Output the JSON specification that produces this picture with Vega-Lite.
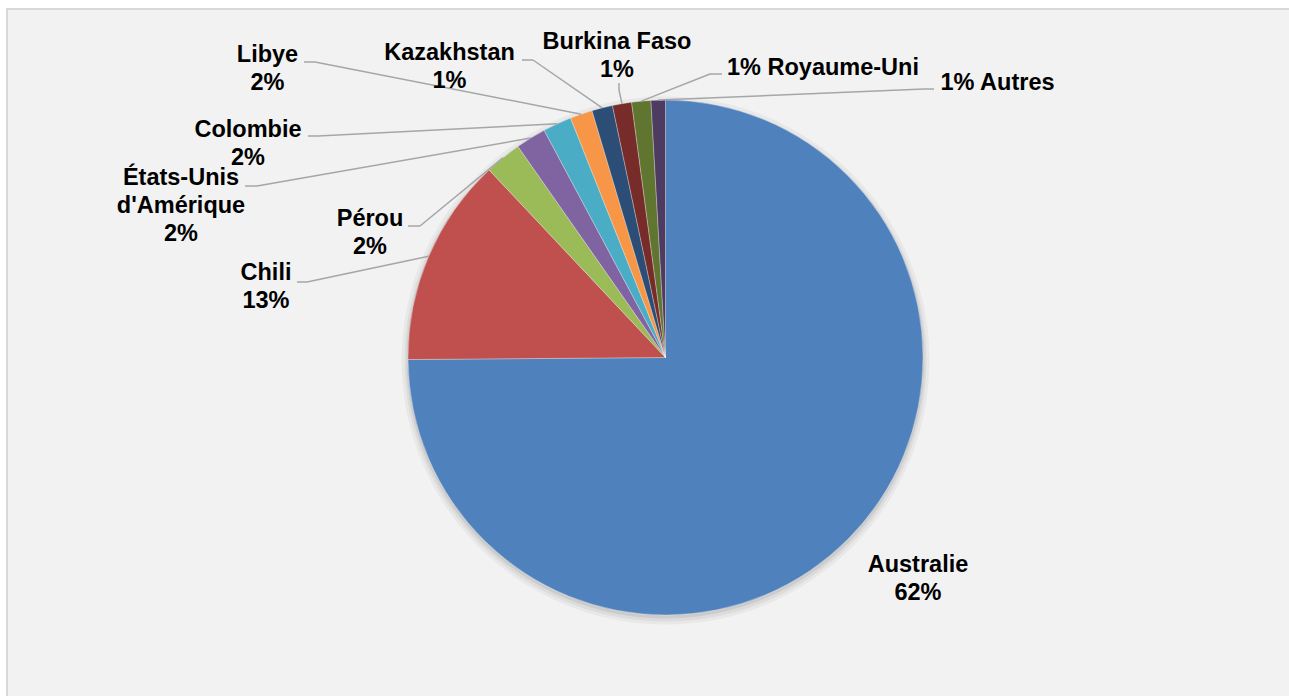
{
  "$schema": "https://vega.github.io/schema/vega-lite/v6.json",
  "width": 1284,
  "height": 689,
  "autosize": "none",
  "padding": {"left": 7, "top": 9, "right": -2, "bottom": -2},
  "background": "#FFFFFF",
  "config": {
    "view": {"fill": "#F2F2F2", "stroke": "#D9D9D9", "strokeWidth": 2},
    "text": {"font": "Liberation Sans"}
  },
  "data": {
    "values": [
      {"order": 0, "country": "Australie", "share": 74.8, "label": "Australie\n62%"},
      {"order": 1, "country": "Chili", "share": 13.1, "label": "Chili\n13%"},
      {"order": 2, "country": "Pérou", "share": 2.3, "label": "Pérou\n2%"},
      {"order": 3, "country": "États-Unis d'Amérique", "share": 1.9, "label": "États-Unis\nd'Amérique\n2%"},
      {"order": 4, "country": "Colombie", "share": 1.8, "label": "Colombie\n2%"},
      {"order": 5, "country": "Libye", "share": 1.4, "label": "Libye\n2%"},
      {"order": 6, "country": "Kazakhstan", "share": 1.3, "label": "Kazakhstan\n1%"},
      {"order": 7, "country": "Burkina Faso", "share": 1.2, "label": "Burkina Faso\n1%"},
      {"order": 8, "country": "Royaume-Uni", "share": 1.2, "label": "1% Royaume-Uni"},
      {"order": 9, "country": "Autres", "share": 0.9, "label": "1% Autres"}
    ]
  },
  "transform": [
    {"joinaggregate": [{"op": "sum", "field": "share", "as": "total"}]},
    {"window": [{"op": "sum", "field": "share", "as": "cum"}], "sort": [{"field": "order", "order": "ascending"}], "frame": [null, 0]},
    {"calculate": "2 * PI * (datum.cum - datum.share / 2) / datum.total", "as": "mid"},
    {"calculate": "257.5 * sin(datum.mid)", "as": "ax"},
    {"calculate": "-257.5 * cos(datum.mid)", "as": "ay"},
    {"calculate": "[252.5,-399.5,-295.5,-484.5,-417.5,-398,-216,-48.5,157.5,332][datum.order]", "as": "lx"},
    {"calculate": "[214.5,-77.5,-131.5,-172.5,-220.5,-295.5,-297.5,-308.5,-282.5,-267.5][datum.order]", "as": "ly"},
    {"calculate": "[0,-368.5,-257.5,-420.5,-357.5,-361.5,-143.5,-46.5,56.5,268.5][datum.order]", "as": "sx"},
    {"calculate": "[0,-75.5,-131.5,-171.5,-221.5,-295.5,-297.5,-274.5,-283.5,-268.5][datum.order]", "as": "sy"},
    {"calculate": "[0,-358.5,-245.5,-408.5,-347.5,-350.5,-132.5,-46.5,44.5,258.5][datum.order]", "as": "ex"},
    {"calculate": "[0,-75.5,-131.5,-171.5,-221.5,-295.5,-297.5,-267.5,-283.5,-268.5][datum.order]", "as": "ey"}
  ],
  "layer": [
    {
      "transform": [{"aggregate": [{"op": "sum", "field": "share", "as": "all"}]}],
      "mark": {"type": "arc", "radius": 264, "fill": "#000000", "opacity": 0.04},
      "encoding": {
        "theta": {"field": "all", "type": "quantitative"},
        "x": {"datum": 0, "type": "quantitative", "scale": {"domain": [-658.5, 625.5], "nice": false, "zero": false}, "axis": null},
        "y": {"datum": 3, "type": "quantitative", "scale": {"domain": [-348.5, 340.5], "reverse": true, "nice": false, "zero": false}, "axis": null}
      }
    },
    {
      "transform": [{"aggregate": [{"op": "sum", "field": "share", "as": "all"}]}],
      "mark": {"type": "arc", "radius": 261, "fill": "#000000", "opacity": 0.05},
      "encoding": {
        "theta": {"field": "all", "type": "quantitative"},
        "x": {"datum": 0, "type": "quantitative"},
        "y": {"datum": 3, "type": "quantitative"}
      }
    },
    {
      "transform": [{"aggregate": [{"op": "sum", "field": "share", "as": "all"}]}],
      "mark": {"type": "arc", "radius": 259, "fill": "#000000", "opacity": 0.07},
      "encoding": {
        "theta": {"field": "all", "type": "quantitative"},
        "x": {"datum": 0, "type": "quantitative"},
        "y": {"datum": 2, "type": "quantitative"}
      }
    },
    {
      "mark": {"type": "arc", "radius": 257.5, "stroke": "#FFFFFF", "strokeWidth": 0.6, "strokeOpacity": 0.5},
      "encoding": {
        "theta": {"field": "share", "type": "quantitative", "stack": true},
        "order": {"field": "order", "type": "quantitative", "sort": "ascending"},
        "color": {
          "field": "country",
          "type": "nominal",
          "scale": {
            "domain": ["Australie", "Chili", "Pérou", "États-Unis d'Amérique", "Colombie", "Libye", "Kazakhstan", "Burkina Faso", "Royaume-Uni", "Autres"],
            "range": ["#4F81BD", "#C0504D", "#9BBB59", "#8064A2", "#4BACC6", "#F79646", "#2C4D75", "#772C2A", "#5F7530", "#4D3B62"]
          },
          "legend": null
        },
        "x": {"datum": 0, "type": "quantitative"},
        "y": {"datum": 0, "type": "quantitative"}
      }
    },
    {
      "transform": [{"filter": "datum.order > 0"}],
      "mark": {"type": "rule", "stroke": "#A6A6A6", "strokeWidth": 1.5},
      "encoding": {
        "x": {"field": "sx", "type": "quantitative"},
        "y": {"field": "sy", "type": "quantitative"},
        "x2": {"field": "ex"},
        "y2": {"field": "ey"}
      }
    },
    {
      "transform": [{"filter": "datum.order > 0"}],
      "mark": {"type": "rule", "stroke": "#A6A6A6", "strokeWidth": 1.5},
      "encoding": {
        "x": {"field": "ex", "type": "quantitative"},
        "y": {"field": "ey", "type": "quantitative"},
        "x2": {"field": "ax"},
        "y2": {"field": "ay"}
      }
    },
    {
      "mark": {"type": "text", "align": "center", "baseline": "alphabetic", "lineBreak": "\n", "fontSize": 23.5, "fontWeight": "bold", "lineHeight": 28, "fill": "#000000"},
      "encoding": {
        "x": {"field": "lx", "type": "quantitative"},
        "y": {"field": "ly", "type": "quantitative"},
        "text": {"field": "label", "type": "nominal"}
      }
    }
  ]
}
